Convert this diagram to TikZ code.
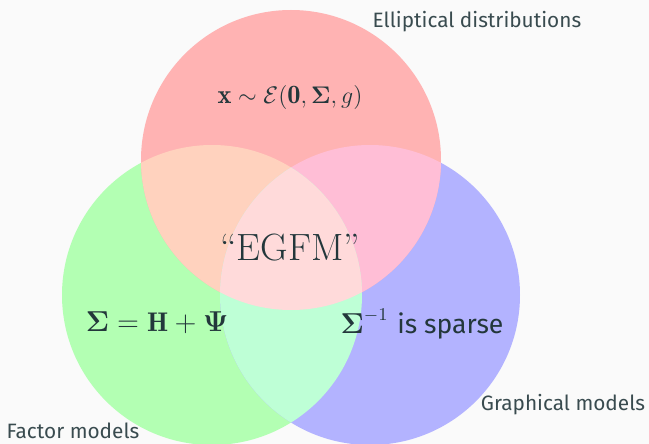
\documentclass[tikz,border=0pt]{standalone}
\usepackage{amsmath}
\usepackage{fontspec}
\newfontfamily\firafont{Fira Sans}
\usepackage{tikz}

\definecolor{bgcol}{HTML}{FAFAFA}
\definecolor{textcol}{HTML}{23373B}
\definecolor{ellcol}{HTML}{FFB3B3}
\definecolor{faccol}{HTML}{B3FFB3}
\definecolor{gracol}{HTML}{B3B3FF}
\definecolor{efcol}{HTML}{FFD2BE}
\definecolor{egcol}{HTML}{FFBED6}
\definecolor{fgcol}{HTML}{BEFFD6}
\definecolor{allcol}{HTML}{FFDADA}

\tikzset{
  setlabel/.style={text=textcol!90, font=\firafont\fontsize{10.4}{12}\selectfont},
  mathlabel/.style={text=textcol, inner sep=0pt},
}

\begin{document}
\begin{tikzpicture}[x=0.5pt,y=-0.5pt]
  \fill[bgcol] (0,0) rectangle (649,444);
  \useasboundingbox (0,0) rectangle (649,444);
  \begin{scope}
    \clip (0,0) rectangle (649,444);

    \coordinate (E) at (291,160);
    \coordinate (F) at (212,295);
    \coordinate (G) at (370,295);

    % the three sets
    \fill[faccol] (F) circle[radius=150];
    \fill[gracol] (G) circle[radius=150];
    \fill[ellcol] (E) circle[radius=150];

    % pairwise overlaps
    \begin{scope}
      \clip (E) circle[radius=150];
      \fill[efcol] (F) circle[radius=150];
      \fill[egcol] (G) circle[radius=150];
    \end{scope}
    \begin{scope}
      \clip (F) circle[radius=150];
      \fill[fgcol] (G) circle[radius=150];
    \end{scope}

    % all three
    \begin{scope}
      \clip (E) circle[radius=150];
      \clip (F) circle[radius=150];
      \fill[allcol] (G) circle[radius=150];
    \end{scope}
  \end{scope}

  \node[setlabel] (ell) at (477,22) {Elliptical distributions};
  \node[setlabel] (fac) at (73,431) {Factor models};
  \node[setlabel] (gra) at (563,405) {Graphical models};

  \node[mathlabel, font=\fontsize{13.2}{15}\selectfont] (ellmath) at (290,98)
    {$\mathbf{x} \sim \mathcal{E}(\mathbf{0}, \boldsymbol{\Sigma}, g)$};
  \node[mathlabel, font=\fontsize{19}{23}\selectfont] (egfm) at (290,248) {“EGFM”};
  \node[mathlabel, font=\fontsize{13.5}{16}\selectfont] (facmath) at (157,323)
    {$\boldsymbol{\Sigma} = \mathbf{H} + \boldsymbol{\Psi}$};
  \node[mathlabel, font=\fontsize{13.3}{16}\selectfont] (gramath) at (422,324)
    {$\boldsymbol{\Sigma}^{-1}$ {\firafont is sparse}};
\end{tikzpicture}
\end{document}
